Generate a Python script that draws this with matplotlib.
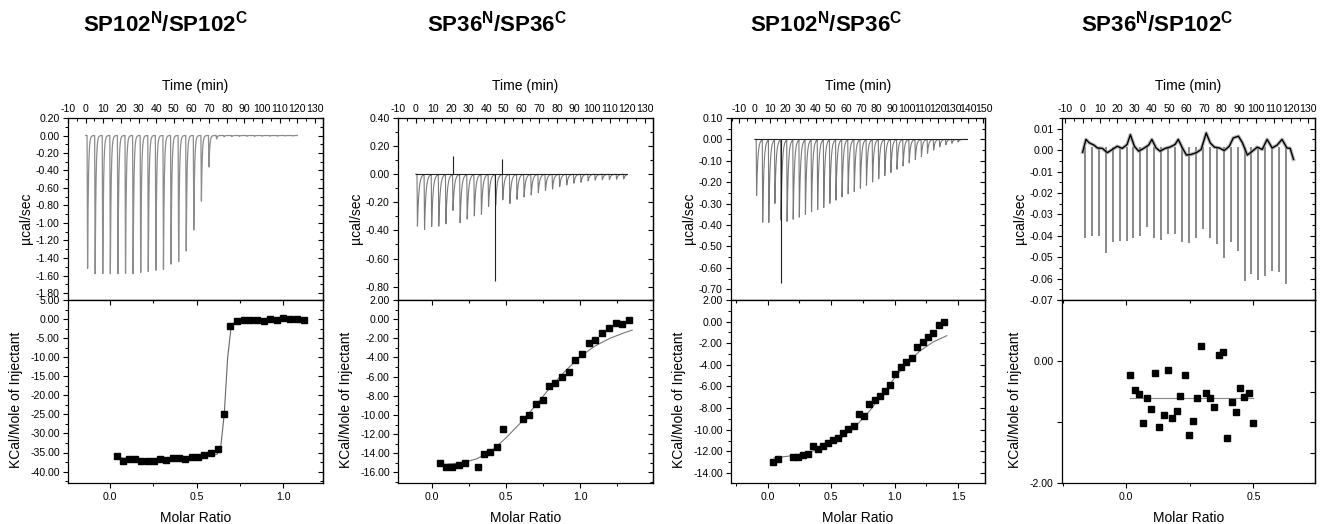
import numpy as np
import matplotlib
matplotlib.use("Agg")
import matplotlib.pyplot as plt
from matplotlib.ticker import MultipleLocator, FixedLocator, FormatStrFormatter, NullFormatter, FixedFormatter

plt.rcParams['font.family'] = ['Liberation Sans', 'DejaVu Sans']
plt.rcParams['mathtext.fontset'] = 'custom'
plt.rcParams['mathtext.rm'] = 'Liberation Sans'
plt.rcParams['mathtext.bf'] = 'Liberation Sans:bold'

# ---------------- data ----------------
titles = [r"SP102$^{\mathbf{N}}$/SP102$^{\mathbf{C}}$",
          r"SP36$^{\mathbf{N}}$/SP36$^{\mathbf{C}}$",
          r"SP102$^{\mathbf{N}}$/SP36$^{\mathbf{C}}$",
          r"SP36$^{\mathbf{N}}$/SP102$^{\mathbf{C}}$"]

# raw thermograms: injection schedule (start, interval) and peak heights (ucal/sec)
p1_inj = (0.8, 4.3)
p1_peaks = [-1.52, -1.58, -1.58, -1.58, -1.58, -1.575, -1.58, -1.565, -1.555, -1.54,
            -1.53, -1.47, -1.44, -1.32, -1.08, -0.75, -0.36, -0.04, -0.015, -0.012,
            -0.01, -0.01, -0.01, -0.008, -0.008, -0.008, -0.006, -0.006]
p2_inj = (0.76, 4.03)
p2_peaks = [-0.374, -0.39, -0.374, -0.367, -0.355, -0.255, -0.348, -0.317, -0.298, -0.283,
            -0.231, -0.22, -0.183, -0.207, -0.179, -0.16, -0.148, -0.131, -0.117, -0.105,
            -0.088, -0.076, -0.064, -0.057, -0.047, -0.042, -0.04, -0.038, -0.036, -0.034]
p2_spike_t = [20.9, 45.1, 49.1]
p2_spike_v = [0.13, -0.76, 0.11]
p3_inj = (1.1, 4.0)
p3_peaks = [-0.265, -0.39, -0.39, -0.30, -0.38, -0.385, -0.375, -0.365, -0.352, -0.34,
            -0.33, -0.32, -0.30, -0.285, -0.27, -0.255, -0.245, -0.23, -0.215, -0.20,
            -0.185, -0.17, -0.155, -0.14, -0.125, -0.11, -0.095, -0.08, -0.065, -0.05,
            -0.035, -0.025, -0.018, -0.012]
p3_spike_t = [17.1]
p3_spike_v = [-0.67]
p4_inj = (1.3, 4.0)
p4_peaks = [-0.041, -0.040, -0.040, -0.048, -0.043, -0.0425, -0.0425, -0.041, -0.040, -0.036,
            -0.041, -0.042, -0.039, -0.039, -0.043, -0.0435, -0.041, -0.037, -0.041, -0.044,
            -0.0505, -0.043, -0.047, -0.061, -0.058, -0.0605, -0.059, -0.0566, -0.057, -0.0625]
p4_base_t = [0, 1.9, 3.8, 6.6, 8.5, 11.4, 14.2, 17.1, 19.9, 22.8, 25.6, 27.5, 29.8, 32.3,
             35.1, 38.0, 39.9, 42.3, 44.6, 47.5, 50.3, 53.2, 55.1, 57.5, 59.8, 62.6, 65.5,
             68.3, 71.2, 73.5, 75.9, 78.8, 81.6, 84.5, 86.8, 89.8, 92.1, 94.9, 97.8, 100.6,
             103.5, 106.3, 109.2, 112.0, 114.9, 117.7, 119.6, 121.5]
p4_base_v = [-0.001, 0.005, 0.0034, 0.0023, 0.001, 0.0008, -0.0012, 0.0003, 0.0018, 0.0008,
             0.0026, 0.0072, 0.0018, -0.0005, 0.0008, 0.0023, 0.005, 0.001, -0.0005, 0.0008,
             0.0014, 0.0026, 0.005, 0.001, -0.0023, -0.002, -0.0012, 0.0003, 0.008, 0.0034,
             0.0014, 0.001, -0.0002, 0.0018, 0.0057, 0.0065, 0.0034, -0.0023, -0.0005, 0.0014,
             0.0003, 0.005, 0.001, 0.0023, 0.005, 0.001, 0.0008, -0.0043]

# binding isotherms (molar ratio, kcal/mole of injectant) and fitted curves
p1_x = [0.039, 0.073, 0.108, 0.145, 0.181, 0.218, 0.255, 0.29, 0.324, 0.363, 0.40, 0.434,
        0.473, 0.51, 0.546, 0.583, 0.622, 0.658, 0.695, 0.734, 0.772, 0.809, 0.847, 0.888,
        0.927, 0.963, 1.0, 1.039, 1.079, 1.12]
p1_y = [-36.0, -37.2, -36.7, -36.8, -37.1, -37.1, -37.2, -36.8, -36.9, -36.5, -36.5, -36.7,
        -36.3, -36.1, -35.6, -35.2, -34.1, -24.8, -1.8, -0.6, -0.2, -0.3, -0.3, -0.4,
        -0.1, -0.3, 0.2, 0.0, -0.1, -0.2]
p1_fit_x = [0.039, 0.1, 0.2, 0.3, 0.4, 0.5, 0.58, 0.62, 0.64, 0.66, 0.68, 0.70, 0.72, 0.76, 0.85, 1.0, 1.12]
p1_fit_y = [-36.3, -36.6, -36.8, -36.8, -36.7, -36.4, -36.0, -35.4, -33.5, -25.0, -10.0, -2.0,
            -0.8, -0.4, -0.2, -0.1, -0.1]

p2_x = [0.056, 0.098, 0.14, 0.182, 0.224, 0.311, 0.351, 0.396, 0.44, 0.48, 0.613, 0.656,
        0.702, 0.747, 0.789, 0.833, 0.878, 0.922, 0.967, 1.013, 1.058, 1.102, 1.149, 1.196,
        1.24, 1.284, 1.331]
p2_y = [-15.05, -15.38, -15.48, -15.2, -15.03, -15.48, -14.1, -13.85, -13.3, -11.5, -10.39,
        -9.97, -8.83, -8.42, -7.0, -6.65, -5.99, -5.5, -4.23, -3.64, -2.49, -2.15, -1.49,
        -0.97, -0.42, -0.48, -0.10]
p2_fit_x = [0.05, 0.1, 0.2, 0.3, 0.4, 0.5, 0.6, 0.7, 0.8, 0.9, 1.0, 1.1, 1.2, 1.3, 1.35]
p2_fit_y = [-15.2, -15.15, -15.0, -14.6, -13.8, -12.4, -10.8, -9.0, -7.1, -5.4, -3.9, -2.8,
            -2.0, -1.4, -1.15]

p3_x = [0.047, 0.086, 0.204, 0.238, 0.283, 0.322, 0.361, 0.40, 0.44, 0.479, 0.518, 0.558,
        0.597, 0.636, 0.681, 0.723, 0.762, 0.801, 0.846, 0.885, 0.924, 0.963, 1.005, 1.047,
        1.089, 1.134, 1.178, 1.22, 1.262, 1.304, 1.346, 1.387]
p3_y = [-13.0, -12.7, -12.48, -12.54, -12.33, -12.23, -11.52, -11.77, -11.52, -11.21, -10.99,
        -10.81, -10.31, -9.91, -9.66, -8.58, -8.76, -7.65, -7.22, -6.88, -6.41, -5.85, -4.89,
        -4.24, -3.75, -3.38, -2.38, -1.89, -1.39, -1.02, -0.31, -0.06]
p3_fit_x = [0.05, 0.2, 0.35, 0.5, 0.6, 0.7, 0.8, 0.9, 1.0, 1.1, 1.2, 1.3, 1.41]
p3_fit_y = [-12.6, -12.4, -12.0, -11.3, -10.6, -9.6, -8.3, -6.8, -5.2, -3.8, -2.7, -1.9, -1.3]

p4_x = [0.017, 0.033, 0.05, 0.065, 0.081, 0.098, 0.114, 0.131, 0.148, 0.165, 0.181, 0.198,
        0.213, 0.230, 0.247, 0.263, 0.280, 0.296, 0.314, 0.33, 0.347, 0.364, 0.381, 0.398,
        0.415, 0.431, 0.448, 0.465, 0.482, 0.5]
p4_y = [-0.23, -0.48, -0.54, -1.01, -0.60, -0.78, -0.19, -1.08, -0.89, -0.15, -0.93, -0.82,
        -0.58, -0.23, -1.21, -0.98, -0.61, 0.25, -0.53, -0.61, -0.75, 0.10, 0.15, -1.27,
        -0.68, -0.83, -0.45, -0.59, -0.52, -1.01]
p4_fit_x = [0.017, 0.5]
p4_fit_y = [-0.60, -0.60]

# ---------------- layout (pixels of the 1321x524 picture) ----------------
W, H = 1321, 524
fig = plt.figure(figsize=(W / 100, H / 100), dpi=100)
col_x = [(68, 323), (398, 653), (731, 985), (1062, 1315)]
top_px, mid_px, bot_px = 118, 300, 483
title_x = [165, 497, 826, 1157]

TICK_FS = 7.6
LABEL_FS = 10


def add_axes_px(left, right, top, bottom):
    return fig.add_axes([left / W, 1 - bottom / H, (right - left) / W, (bottom - top) / H])


def injection_trace(t_end, inj, amps, rise, tau):
    # draws each injection as a sharp deflection with an exponential return
    t = np.arange(0, t_end, 0.02)
    sig = np.zeros_like(t)
    t0, dt = inj
    for i, a in enumerate(amps):
        s = t - (t0 + i * dt)
        shape = np.where(s < rise, s / rise, np.exp(-(s - rise) / tau))
        sig += np.where(s >= 0, a * shape, 0.0)
    return t, sig


def style_common(ax, ymaj, ymin, yfmt):
    for sp in ax.spines.values():
        sp.set_linewidth(0.9)
    if ymaj is not None:
        ax.yaxis.set_major_locator(MultipleLocator(ymaj))
        ax.yaxis.set_minor_locator(MultipleLocator(ymin))
        ax.yaxis.set_major_formatter(FormatStrFormatter(yfmt))
    ax.tick_params(axis='y', which='both', direction='out', left=True, right=False,
                   labelsize=TICK_FS, pad=2.5)
    ax.tick_params(which='major', length=3.5, width=0.8)
    ax.tick_params(which='minor', length=2, width=0.7)
    sec = ax.secondary_yaxis('right')
    sec.yaxis.set_major_locator(ax.yaxis.get_major_locator())
    if ymin is not None:
        sec.yaxis.set_minor_locator(MultipleLocator(ymin))
    sec.yaxis.set_major_formatter(NullFormatter())
    sec.tick_params(which='both', direction='in', width=0.8)
    sec.tick_params(which='major', length=3.5)
    sec.tick_params(which='minor', length=2)
    sec.spines['right'].set_linewidth(0.9)


def style_top(ax, xlim, ylim, ymaj, ymin):
    ax.set_xlim(xlim)
    ax.set_ylim(ylim)
    style_common(ax, ymaj, ymin, '%.2f')
    ax.xaxis.set_major_locator(MultipleLocator(10))
    ax.xaxis.set_minor_locator(MultipleLocator(5))
    ax.xaxis.set_major_formatter(FormatStrFormatter('%d'))
    ax.tick_params(axis='x', which='both', direction='in', top=True, bottom=False,
                   labeltop=True, labelbottom=False, labelsize=TICK_FS, pad=3)
    ax.xaxis.set_label_position('top')
    ax.set_xlabel('Time (min)', fontsize=LABEL_FS)
    ax.xaxis.set_label_coords(0.5, 1 + 28 / 182)
    ax.set_ylabel('\u00b5cal/sec', fontsize=LABEL_FS)


def style_bottom(ax, xlim, ylim, ymaj, ymin):
    ax.set_xlim(xlim)
    ax.set_ylim(ylim)
    style_common(ax, ymaj, ymin, '%.2f')
    ax.xaxis.set_major_locator(MultipleLocator(0.5))
    ax.xaxis.set_minor_locator(MultipleLocator(0.25))
    ax.xaxis.set_major_formatter(FormatStrFormatter('%.1f'))
    ax.tick_params(axis='x', which='both', direction='out', top=False, bottom=True,
                   labelsize=TICK_FS, pad=3)
    sec = ax.secondary_xaxis('top')
    sec.xaxis.set_major_locator(MultipleLocator(0.5))
    sec.xaxis.set_minor_locator(MultipleLocator(0.25))
    sec.xaxis.set_major_formatter(NullFormatter())
    sec.tick_params(which='both', direction='in', width=0.8)
    sec.tick_params(which='major', length=3.5)
    sec.tick_params(which='minor', length=2)
    ax.set_xlabel('Molar Ratio', fontsize=LABEL_FS)
    ax.xaxis.set_label_coords(0.5, -28 / 183)
    ax.set_ylabel('KCal/Mole of Injectant', fontsize=LABEL_FS)


top_axes = [add_axes_px(l, r, top_px, mid_px) for l, r in col_x]
bot_axes = [add_axes_px(l, r, mid_px, bot_px) for l, r in col_x]

PEAK_GREY = '#7a7a7a'

# ---- panel 1 ----
ax = top_axes[0]
t, s = injection_trace(120, p1_inj, p1_peaks, 0.3, 0.45)
ax.plot(t, s, color='#8c8c8c', lw=0.9)
style_top(ax, (-10, 134.5), (-1.88, 0.20), 0.2, 0.1)

ax = bot_axes[0]
ax.plot(p1_fit_x, p1_fit_y, color='#666666', lw=0.8)
ax.plot(p1_x, p1_y, 's', color='black', ms=4.8)
style_bottom(ax, (-0.243, 1.231), (-43.0, 5.0), 5, 2.5)

# ---- panel 2 ----
ax = top_axes[1]
t, s = injection_trace(120, p2_inj, p2_peaks, 0.25, 0.8)
ax.plot(t, s, color=PEAK_GREY, lw=0.8)
ax.plot([0, 120], [0, 0], color='#222222', lw=0.8)
ax.vlines(p2_spike_t, 0, p2_spike_v, color='#222222', lw=0.8)
style_top(ax, (-10, 134.5), (-0.895, 0.40), 0.2, 0.1)

ax = bot_axes[1]
ax.plot(p2_fit_x, p2_fit_y, color='#777777', lw=0.8)
ax.plot(p2_x, p2_y, 's', color='black', ms=4.8)
style_bottom(ax, (-0.226, 1.49), (-17.1, 2.0), 2, 1)

# ---- panel 3 ----
ax = top_axes[2]
t, s = injection_trace(139, p3_inj, p3_peaks, 0.25, 0.8)
ax.plot(t, s, color=PEAK_GREY, lw=0.8)
ax.plot([0, 139], [0, 0], color='#222222', lw=0.8)
ax.vlines(p3_spike_t, 0, p3_spike_v, color='#222222', lw=0.8)
style_top(ax, (-15.4, 151), (-0.75, 0.10), 0.1, 0.05)

ax = bot_axes[2]
ax.plot(p3_fit_x, p3_fit_y, color='#777777', lw=0.8)
ax.plot(p3_x, p3_y, 's', color='black', ms=4.8)
style_bottom(ax, (-0.287, 1.71), (-14.93, 2.0), 2, 1)

# ---- panel 4 ----
ax = top_axes[3]
inj_t4 = [p4_inj[0] + i * p4_inj[1] for i in range(len(p4_peaks))]
ax.vlines(inj_t4, p4_peaks, 0.0015, color='#6a6a6a', lw=1.1)
ax.plot(p4_base_t, p4_base_v, color='#9a9a9a', lw=2.6, alpha=0.7)
ax.plot(p4_base_t, p4_base_v, color='black', lw=1.0)
style_top(ax, (-11.9, 133.9), (-0.07, 0.015), 0.01, 0.005)

ax = bot_axes[3]
ax.plot(p4_fit_x, p4_fit_y, color='#888888', lw=0.8)
ax.plot(p4_x, p4_y, 's', color='black', ms=4.8)
style_bottom(ax, (-0.252, 0.742), (-2.0, 1.0), None, None)
ax.yaxis.set_major_locator(FixedLocator([-2, -1, 0, 1]))
ax.yaxis.set_major_formatter(FixedFormatter(['-2.00', '', '0.00', '']))
ax.yaxis.set_minor_locator(FixedLocator([]))

# y label positions (right edge of rotated text relative to the axis)
for i, ax in enumerate(top_axes):
    w = col_x[i][1] - col_x[i][0]
    ax.yaxis.set_label_coords(-35 / w, 0.45)
for i, ax in enumerate(bot_axes):
    w = col_x[i][1] - col_x[i][0]
    off = 40 if i == 3 else 45
    ax.yaxis.set_label_coords(-off / w, 0.455)

for tx, title in zip(title_x, titles):
    fig.text(tx / W, 1 - 24 / H, title, fontsize=16, fontweight='bold',
             ha='center', va='center')

fig.savefig('out.png', dpi=100)
